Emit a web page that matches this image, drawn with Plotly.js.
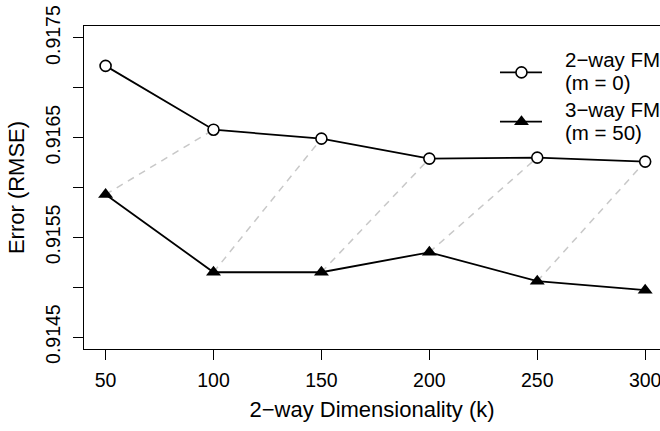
<!DOCTYPE html>
<html>
<head>
<meta charset="utf-8">
<script src="https://cdn.plot.ly/plotly-3.0.1.min.js"></script>
<style>html,body{margin:0;padding:0;background:#fff;}#chart{width:660px;height:431px;}</style>
</head>
<body>
<div id="chart"></div>
<script>
// Data
var dims = [50, 100, 150, 200, 250, 300];
var twoWayFM = [0.91722, 0.91658, 0.91649, 0.91629, 0.91630, 0.91626];
var threeWayFM = [0.91593, 0.91515, 0.91515, 0.91535, 0.91506, 0.91497];
var xTickVals = [50, 100, 150, 200, 250, 300];
var yTickVals = [0.9145, 0.9150, 0.9155, 0.9160, 0.9165, 0.9170, 0.9175];
var yTickText = ['0.9145', '', '0.9155', '', '0.9165', '', '0.9175'];
var legendLabels = [['2\u2212way FM', '(m = 0)'], ['3\u2212way FM', '(m = 50)']];

var FONT = 'Liberation Sans, Arial, Helvetica, sans-serif';

// gray dashed connectors: 3-way at k -> 2-way at next k
var cx = [], cy = [];
for (var i = 0; i < dims.length - 1; i++) {
  cx.push(dims[i], dims[i + 1], null);
  cy.push(threeWayFM[i], twoWayFM[i + 1], null);
}

var traces = [
  {x: cx, y: cy, mode: 'lines', line: {color: '#c8c8c8', width: 1.5, dash: '7px,6px'}, hoverinfo: 'skip', showlegend: false},
  {x: dims, y: twoWayFM, mode: 'lines+markers', name: '2-way FM (m = 0)',
   line: {color: '#000', width: 1.8},
   marker: {symbol: 'circle', size: 11, color: '#fff', line: {color: '#000', width: 1.6}}, showlegend: false},
  {x: dims, y: threeWayFM, mode: 'lines+markers', name: '3-way FM (m = 50)',
   line: {color: '#000', width: 1.8},
   marker: {symbol: 'triangle-up', size: 13, color: '#000', line: {width: 0}}, showlegend: false},
  // legend symbols on an overlay axis in plot-fraction units
  {x: [0.7595], y: [0.8563], xaxis: 'x2', yaxis: 'y2', mode: 'markers', hoverinfo: 'skip', showlegend: false,
   marker: {symbol: 'circle', size: 11, color: '#fff', line: {color: '#000', width: 1.6}}},
  {x: [0.7595], y: [0.7037], xaxis: 'x2', yaxis: 'y2', mode: 'markers', hoverinfo: 'skip', showlegend: false,
   marker: {symbol: 'triangle-up', size: 13, color: '#000', line: {width: 0}}}
];

var annotations = [];
var lineY = [[0.8957, 0.8245], [0.7409, 0.6697]];
for (var s = 0; s < legendLabels.length; s++) {
  for (var l = 0; l < 2; l++) {
    annotations.push({xref: 'paper', yref: 'paper', x: 0.8316, y: lineY[s][l], xanchor: 'left', yanchor: 'middle',
      text: legendLabels[s][l], showarrow: false, font: {family: FONT, size: 20.5, color: '#000'}});
  }
}

var shapes = [
  {type: 'line', xref: 'paper', yref: 'paper', x0: 0.7222, x1: 0.7951, y0: 0.8563, y1: 0.8563, line: {color: '#000', width: 1.8}, layer: 'below'},
  {type: 'line', xref: 'paper', yref: 'paper', x0: 0.7222, x1: 0.7951, y0: 0.7037, y1: 0.7037, line: {color: '#000', width: 1.8}, layer: 'below'}
];

var layout = {
  width: 660, height: 431,
  margin: {l: 84, r: 0, t: 26, b: 82},
  paper_bgcolor: '#fff', plot_bgcolor: '#fff',
  font: {family: FONT, size: 20, color: '#000'},
  xaxis: {
    range: [40, 306.87], tickvals: xTickVals, ticks: 'outside', ticklen: 10, tickwidth: 1, tickcolor: '#000',
    showline: true, linecolor: '#000', linewidth: 1, mirror: true, showgrid: false, zeroline: false,
    tickfont: {family: FONT, size: 19.5}, ticklabelstandoff: 4, ticklabeloverflow: 'allow',
    title: {text: '2\u2212way Dimensionality (k)', font: {family: FONT, size: 22}, standoff: 11}
  },
  yaxis: {
    range: [0.91438, 0.91762], tickvals: yTickVals, ticktext: yTickText, tickangle: -90,
    ticks: 'outside', ticklen: 10, tickwidth: 1, tickcolor: '#000',
    showline: true, linecolor: '#000', linewidth: 1, mirror: false, showgrid: false, zeroline: false,
    tickfont: {family: FONT, size: 19.5}, ticklabelstandoff: 5, ticklabeloverflow: 'allow',
    title: {text: 'Error (RMSE)', font: {family: FONT, size: 22}, standoff: 11}
  },
  xaxis2: {overlaying: 'x', anchor: 'y2', range: [0, 1], visible: false},
  yaxis2: {overlaying: 'y', anchor: 'x2', range: [0, 1], visible: false},
  annotations: annotations,
  shapes: shapes,
  showlegend: false
};

Plotly.newPlot('chart', traces, layout, {displayModeBar: false, staticPlot: true});
</script>
</body>
</html>
